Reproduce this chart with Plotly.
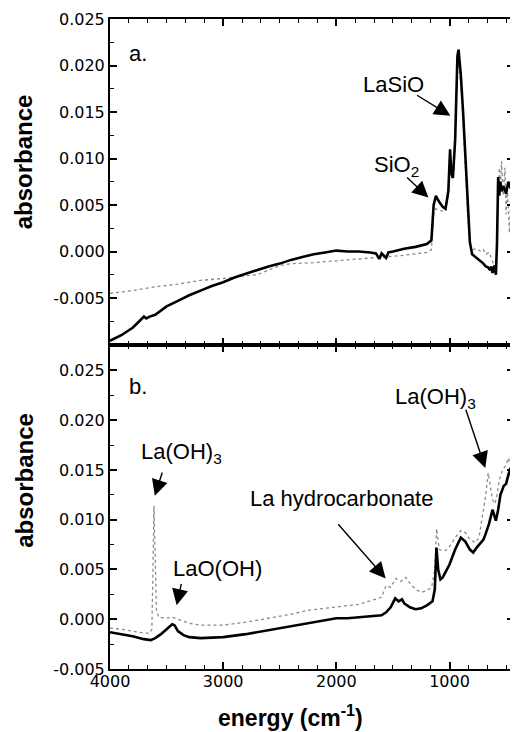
import plotly.graph_objects as go
from plotly.subplots import make_subplots

# ---------------- data ----------------
# panel a, black (thick) spectrum
a_black_x = [4000, 3950, 3900, 3850, 3800, 3750, 3720, 3700, 3680, 3650, 3600, 3550, 3500, 3400, 3300,
             3200, 3100, 3000, 2900, 2800, 2700, 2600, 2500, 2400, 2300, 2200, 2100, 2000, 1900, 1800,
             1700, 1650, 1620, 1600, 1560, 1540, 1500, 1400, 1300, 1200, 1160, 1140, 1120, 1100, 1060,
             1035, 1010, 995, 985, 970, 950, 930, 920, 910, 900, 880, 860, 840, 820, 800, 780, 760, 740,
             720, 700, 680, 660, 640, 630, 620, 600, 590, 580, 570, 560, 550, 540, 520, 500, 480, 460,
             448, 442]
a_black_y = [-0.0096, -0.0093, -0.0090, -0.0086, -0.0082, -0.0076, -0.0072, -0.0070, -0.0072, -0.0070,
             -0.0068, -0.0063, -0.0059, -0.0053, -0.0047, -0.0042, -0.0037, -0.0033, -0.0028, -0.0024,
             -0.0020, -0.0016, -0.0013, -0.0009, -0.0006, -0.0003, -0.0001, 0.0001, 0.0000, 0.0000,
             -0.0001, -0.0002, -0.0008, -0.0002, -0.0007, -0.0001, 0.0000, 0.0003, 0.0005, 0.0008,
             0.0012, 0.0050, 0.0060, 0.0055, 0.0048, 0.0046, 0.0065, 0.0110, 0.0085, 0.0079, 0.0120,
             0.0210, 0.0217, 0.0205, 0.0190, 0.0150, 0.0100, 0.0050, 0.0010, -0.0003, -0.0005, -0.0006,
             -0.0008, -0.0010, -0.0013, -0.0016, -0.0017, -0.0020, -0.0016, -0.0023, -0.0015, -0.0025,
             0.0010, 0.0080, 0.0060, 0.0075, 0.0065, 0.0070, 0.0062, 0.0075, 0.0068, 0.0075, 0.0025]

# panel a, gray (dotted) spectrum
a_gray_x = [4000, 3800, 3600, 3400, 3200, 3000, 2800, 2700, 2600, 2500, 2400, 2200, 2000, 1800, 1600,
            1400, 1200, 1160, 1140, 1120, 1080, 1040, 1010, 995, 980, 960, 940, 925, 915, 900, 880, 860,
            840, 820, 800, 760, 720, 700, 680, 650, 620, 600, 585, 570, 560, 550, 540, 525, 510, 500,
            490, 470, 460, 450, 445]
a_gray_y = [-0.0045, -0.0042, -0.0038, -0.0035, -0.0031, -0.0029, -0.0026, -0.0025, -0.0020, -0.0015,
            -0.0013, -0.0012, -0.0010, -0.0008, -0.0006, -0.0004, -0.0001, 0.0002, 0.0040, 0.0046,
            0.0044, 0.0043, 0.0060, 0.0100, 0.0080, 0.0085, 0.0170, 0.0205, 0.0200, 0.0180, 0.0140,
            0.0090, 0.0040, 0.0008, 0.0002, 0.0003, 0.0000, 0.0002, -0.0003, -0.0001, -0.0010, -0.0020,
            -0.0005, 0.0060, 0.0090, 0.0070, 0.0097, 0.0060, 0.0090, 0.0040, 0.0070, 0.0020, 0.0050,
            -0.0005, 0.0030]

# panel b, black (thick) spectrum
b_black_x = [4000, 3900, 3800, 3700, 3640, 3600, 3550, 3500, 3450, 3430, 3400, 3350, 3300, 3200, 3000,
             2800, 2600, 2400, 2250, 2200, 2100, 2000, 1900, 1800, 1700, 1600, 1560, 1520, 1480, 1450,
             1420, 1400, 1350, 1300, 1250, 1200, 1150, 1130, 1115, 1100, 1080, 1060, 1000, 950, 900,
             860, 820, 790, 760, 720, 700, 680, 650, 620, 600, 590, 570, 550, 520, 500, 480, 460, 450,
             445]
b_black_y = [-0.0013, -0.0015, -0.0017, -0.0020, -0.0021, -0.0019, -0.0015, -0.0010, -0.0005, -0.0006,
             -0.0012, -0.0016, -0.0018, -0.0019, -0.0018, -0.0015, -0.0011, -0.0007, -0.0004, -0.0003,
             -0.0001, 0.0001, 0.0001, 0.0002, 0.0003, 0.0004, 0.0007, 0.0012, 0.0021, 0.0018, 0.0020,
             0.0016, 0.0012, 0.0010, 0.0011, 0.0014, 0.0018, 0.0030, 0.0072, 0.0050, 0.0040, 0.0042,
             0.0055, 0.0070, 0.0082, 0.0078, 0.0070, 0.0067, 0.0072, 0.0078, 0.0080, 0.0086, 0.0096,
             0.0110, 0.0104, 0.0099, 0.0110, 0.0125, 0.0134, 0.0136, 0.0145, 0.0152, 0.0135, 0.0140]

# panel b, gray (dotted) spectrum
b_gray_x = [4000, 3900, 3800, 3700, 3650, 3630, 3620, 3612, 3600, 3590, 3570, 3500, 3450, 3400, 3300,
            3200, 3000, 2800, 2600, 2400, 2250, 2000, 1800, 1600, 1560, 1520, 1474, 1430, 1386, 1350,
            1300, 1246, 1200, 1158, 1130, 1114, 1090, 1035, 1000, 950, 900, 860, 820, 772, 740, 700,
            680, 658, 640, 620, 597, 580, 560, 530, 500, 482, 470, 455, 445]
b_gray_y = [-0.0009, -0.0010, -0.0012, -0.0014, -0.0014, -0.0010, 0.0050, 0.0114, 0.0060, 0.0010,
            0.0002, 0.0001, 0.0002, 0.0000, -0.0004, -0.0006, -0.0006, -0.0003, 0.0001, 0.0005,
            0.0009, 0.0012, 0.0015, 0.0022, 0.0034, 0.0032, 0.0041, 0.0038, 0.0042, 0.0036, 0.0030,
            0.0027, 0.0029, 0.0032, 0.0050, 0.0091, 0.0070, 0.0069, 0.0073, 0.0082, 0.0089, 0.0087,
            0.0080, 0.0077, 0.0082, 0.0110, 0.0125, 0.0147, 0.0135, 0.0120, 0.0116, 0.0125, 0.0140,
            0.0150, 0.0155, 0.0162, 0.0158, 0.0165, 0.0150]

x_tickvals = [4000, 3000, 2000, 1000]
x_ticktext = ["4000", "3000", "2000", "1000"]
y_tickvals = [-0.005, 0.000, 0.005, 0.010, 0.015, 0.020, 0.025]
y_ticktext = ["-0.005", "0.000", "0.005", "0.010", "0.015", "0.020", "0.025"]

# ---------------- figure ----------------
fig = make_subplots(rows=2, cols=1, shared_xaxes=True, vertical_spacing=0)

BLACK = dict(color="black", width=2.6)
GRAY = dict(color="#8a8a8a", width=1.3, dash="dot")

fig.add_trace(go.Scatter(x=a_gray_x, y=a_gray_y, mode="lines", line=GRAY, showlegend=False), row=1, col=1)
fig.add_trace(go.Scatter(x=a_black_x, y=a_black_y, mode="lines", line=BLACK, showlegend=False), row=1, col=1)
fig.add_trace(go.Scatter(x=b_gray_x, y=b_gray_y, mode="lines", line=GRAY, showlegend=False), row=2, col=1)
fig.add_trace(go.Scatter(x=b_black_x, y=b_black_y, mode="lines", line=BLACK, showlegend=False), row=2, col=1)

tickfont = dict(family="DejaVu Sans", size=16, color="black")
common_axis = dict(showline=True, linecolor="black", linewidth=2, mirror="allticks",
                   ticks="inside", ticklen=7, tickwidth=1.5, tickcolor="black",
                   showgrid=False, zeroline=False, tickfont=tickfont)

xax = dict(common_axis, range=[4000, 430], tickvals=x_tickvals, ticktext=x_ticktext,
           ticklabelstandoff=-3,
           minor=dict(ticks="inside", ticklen=4, tickwidth=1.2, tickcolor="black",
                      tick0=0, dtick=1000 / 6, showgrid=False))
fig.update_xaxes(xax)
fig.update_xaxes(showticklabels=False, row=1, col=1)
fig.update_xaxes(showticklabels=True, row=2, col=1)

yax = dict(common_axis, tickvals=y_tickvals, ticktext=y_ticktext,
           minor=dict(ticks="inside", ticklen=4, tickwidth=1.2, tickcolor="black",
                      tick0=0, dtick=0.0025, showgrid=False))
fig.update_yaxes(yax)
fig.update_yaxes(range=[-0.010, 0.025], domain=[0.4992, 1.0], row=1, col=1)
fig.update_yaxes(range=[-0.005, 0.0276], domain=[0.0, 0.4992], row=2, col=1)

ann_font = dict(family="Liberation Sans, Arial", size=22, color="black")
title_font = dict(family="Liberation Sans, Arial", size=24, color="black")

annotations = []
# panel labels
annotations.append(dict(x=3754, y=0.0213, xref="x", yref="y", text="a.", showarrow=False, font=ann_font))
annotations.append(dict(x=3754, y=0.0234, xref="x2", yref="y2", text="b.", showarrow=False, font=ann_font))

# label texts: (text, x, y, xref, yref)
labels = [
    ("LaSiO", 1493, 0.0180, "x", "y"),
    ("SiO<sub>2</sub>", 1467, 0.0092, "x", "y"),
    ("La(OH)<sub>3</sub>", 3367, 0.0167, "x2", "y2"),
    ("LaO(OH)", 3050, 0.0051, "x2", "y2"),
    ("La hydrocarbonate", 1951, 0.0121, "x2", "y2"),
    ("La(OH)<sub>3</sub>", 1124, 0.0222, "x2", "y2"),
]
for t, x, y, xr, yr in labels:
    annotations.append(dict(x=x, y=y, xref=xr, yref=yr, text=t, showarrow=False, font=ann_font))

# arrows: (tail x, tail y, head x, head y, xref, yref)
arrows = [
    (1300, 0.0169, 992, 0.0146, "x", "y"),
    (1388, 0.0081, 1186, 0.0058, "x", "y"),
    (3534, 0.0149, 3604, 0.0124, "x2", "y2"),
    (3367, 0.0037, 3411, 0.0014, "x2", "y2"),
    (1995, 0.0097, 1564, 0.0041, "x2", "y2"),
    (860, 0.0212, 684, 0.0152, "x2", "y2"),
]
for tx, ty, hx, hy, xr, yr in arrows:
    annotations.append(dict(x=hx, y=hy, ax=tx, ay=ty, xref=xr, yref=yr, axref=xr, ayref=yr,
                            text="", showarrow=True, arrowhead=2, arrowsize=2.3,
                            arrowwidth=1.4, arrowcolor="black", standoff=0, startstandoff=0))

# axis titles
annotations.append(dict(x=-0.212, y=0.780, xref="paper", yref="paper", text="<b>absorbance</b>",
                        xanchor="center", yanchor="middle",
                        textangle=-90, showarrow=False, font=title_font))
annotations.append(dict(x=-0.212, y=0.290, xref="paper", yref="paper", text="<b>absorbance</b>",
                        xanchor="center", yanchor="middle",
                        textangle=-90, showarrow=False, font=title_font))
annotations.append(dict(x=0.448, y=-0.072, xref="paper", yref="paper",
                        xanchor="center", yanchor="middle",
                        text="<b>energy (cm<sup>-1</sup>)</b>", showarrow=False,
                        font=dict(family="Liberation Sans, Arial", size=23, color="black")))

# page body has an 8px margin, so the figure is 8px smaller and shifted accordingly
fig.update_layout(
    width=510, height=724,
    margin=dict(l=102, r=2, t=10, b=63),
    paper_bgcolor="white", plot_bgcolor="white",
    annotations=annotations,
    showlegend=False,
)

fig.write_html("out.html")
